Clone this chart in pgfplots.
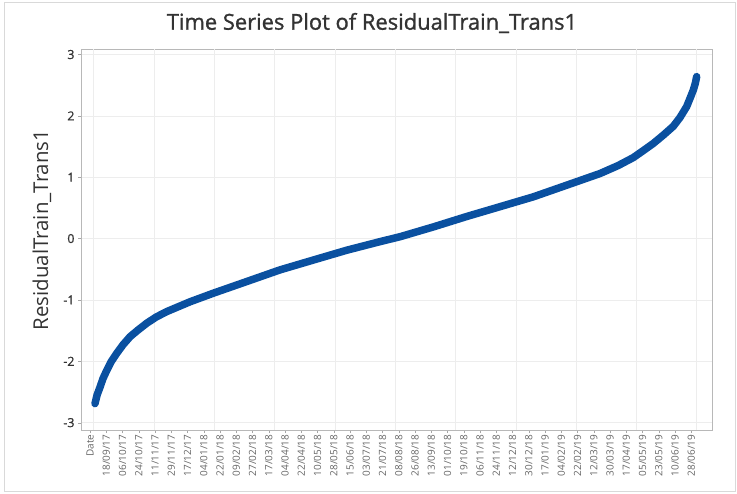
\documentclass[border=0pt]{standalone}
\usepackage{fontspec}
\setmainfont{Open Sans}
\usepackage{pgfplots}
\pgfplotsset{compat=1.18}
\definecolor{series}{RGB}{10,80,160}
\pgfplotstableread{
x y
5.5 -2.69
7.8 -2.55
11.1 -2.42
14.4 -2.28
18.5 -2.15
23.3 -2.01
29.6 -1.87
36.6 -1.73
44.3 -1.60
53.2 -1.49
62.8 -1.38
73.1 -1.28
85 -1.19
110.8 -1.03
136.6 -0.89
173.6 -0.70
210.5 -0.51
247.3 -0.35
284.3 -0.19
321.2 -0.05
343.4 0.03
380.3 0.19
417.3 0.36
454.2 0.52
491.0 0.68
528.0 0.87
564.9 1.06
585 1.19
601.8 1.32
612.5 1.43
623.9 1.55
634.6 1.68
646.1 1.83
653.4 1.97
660.9 2.15
664.5 2.28
668.3 2.42
670.5 2.53
672.0 2.64
}\resid
\begin{document}
\begin{tikzpicture}
\begin{axis}[
  scale only axis, width=631bp, height=381bp,
  xmin=-10, xmax=689, ymin=-3.12, ymax=3.09,
  axis line style={draw=black!28, line width=0.8pt},
  xtick={0,18,...,666},
  xticklabels={Date,18/09/17,06/10/17,24/10/17,11/11/17,29/11/17,17/12/17,04/01/18,22/01/18,09/02/18,27/02/18,17/03/18,04/04/18,22/04/18,10/05/18,28/05/18,15/06/18,03/07/18,21/07/18,08/08/18,26/08/18,13/09/18,01/10/18,19/10/18,06/11/18,24/11/18,12/12/18,30/12/18,17/01/19,04/02/19,22/02/19,12/03/19,30/03/19,17/04/19,05/05/19,23/05/19,10/06/19,28/06/19},
  xticklabel style={rotate=90, anchor=east, font=\fontsize{10}{11}\selectfont, text=black!60, inner sep=1.5pt},
  ytick={-3,-2,-1,0,1,2,3},
  yticklabel style={font=\fontsize{12.5}{14}\selectfont\addfontfeatures{FakeBold=0.8}, text=black!80},
  tick align=outside, major tick length=3bp, tick style={black!35},
  xtick pos=bottom, ytick pos=left,
  ymajorgrids, grid style={black!7},
  extra x ticks={4,70.8,137.6,204.4,271.2,338,404.8,471.6,538.4,605.2,672},
  extra x tick labels={},
  extra x tick style={grid=major, major tick length=0pt},
  /pgf/number format/assume math mode=true,
]
\coordinate (bl) at (rel axis cs:0,0);
\addplot[series, line width=7.5bp, line cap=round, line join=round] table[x=x,y=y] {\resid};
\end{axis}
\node[font=\fontsize{22}{25}\selectfont\addfontfeatures{FakeBold=1.2}, text=black!80] at ([shift={(291bp,407bp)}]bl) {Time Series Plot of ResidualTrain\_Trans1};
\node[font=\fontsize{20.5}{24}\selectfont, text=black!80, rotate=90] at ([shift={(-39bp,200bp)}]bl) {ResidualTrain\_Trans1};
\pgfresetboundingbox
\path[use as bounding box] ([shift={(-81bp,-64bp)}]bl) rectangle ++(737bp,494bp);
\draw[black!15, line width=0.8pt] ([shift={(-77bp,-61bp)}]bl) rectangle ++(731bp,489bp);
\end{tikzpicture}
\end{document}
